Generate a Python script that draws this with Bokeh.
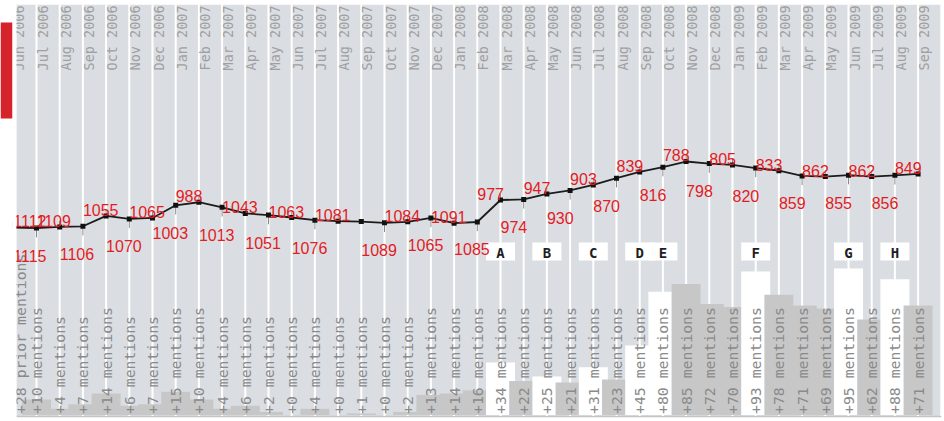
import math
from bokeh.plotting import figure
from bokeh.models import Range1d
from bokeh.core.properties import value
from bokeh.embed import file_html
from bokeh.resources import INLINE

# ---------------- data ----------------
months = ["Jun 2006", "Jul 2006", "Aug 2006", "Sep 2006", "Oct 2006", "Nov 2006", "Dec 2006",
          "Jan 2007", "Feb 2007", "Mar 2007", "Apr 2007", "May 2007", "Jun 2007", "Jul 2007",
          "Aug 2007", "Sep 2007", "Oct 2007", "Nov 2007", "Dec 2007",
          "Jan 2008", "Feb 2008", "Mar 2008", "Apr 2008", "May 2008", "Jun 2008", "Jul 2008",
          "Aug 2008", "Sep 2008", "Oct 2008", "Nov 2008", "Dec 2008",
          "Jan 2009", "Feb 2009", "Mar 2009", "Apr 2009", "May 2009", "Jun 2009", "Jul 2009",
          "Aug 2009", "Sep 2009"]

# rank at each month boundary (lower = better, drawn higher)
ranks = [1112, 1115, 1109, 1106, 1055, 1070, 1065, 1003, 988, 1013,
         1043, 1051, 1063, 1076, 1081, 1083, 1089, 1084, 1065, 1091,
         1085, 977, 974, 947, 930, 903, 870, 839, 816, 788,
         798, 805, 820, 833, 859, 862, 855, 862, 856, 849]
unlabelled_ranks = [15]

prior_mentions = 28
mentions = [10, 4, 7, 14, 6, 7, 15, 10, 4, 6,
            2, 0, 4, 0, 1, 0, 2, 13, 14, 16,
            34, 22, 25, 21, 31, 23, 45, 80, 85, 72,
            70, 93, 78, 71, 69, 95, 62, 88, 71]

event_points = [20, 22, 24, 26, 27, 31, 35, 37]
event_letters = ["A", "B", "C", "D", "E", "F", "G", "H"]

# ---------------- figure ----------------
W, H = 944, 421
X0 = -12.8 / 23.2
p = figure(width=W, height=H, x_range=Range1d(X0, X0 + W / 23.2), y_range=Range1d(H, 0),
           output_backend="svg", toolbar_location=None, min_border=0,
           x_axis_location=None, y_axis_location=None, outline_line_color=None,
           background_fill_color="white", border_fill_color="white")
p.grid.visible = False
p.extra_y_ranges = {"rank": Range1d(2064.4, -2.4), "ment": Range1d(-4.22, 268.8)}

MONO = value("DejaVu Sans Mono")

# background stripes
p.quad(left=0.134, right=40, top=4, bottom=415.5, fill_color="#dadee3", line_color=None)
# red tab at far left
p.quad(left=X0, right=-0.034, top=22, bottom=118, fill_color="#d6232b", line_color=None)
# baseline
p.segment(x0=0.134, y0=416, x1=40, y1=416, line_color="#c4c4c4", line_width=1.5)

# white column separators
sep_x = [k + 1 for k in range(len(months))]
p.segment(x0=sep_x, y0=[4] * len(sep_x), x1=sep_x, y1=[415.5] * len(sep_x),
          line_color="white", line_width=2)

# month headers
p.text(x=[k + 0.26 for k in range(len(months))], y=[70] * len(months), text=months,
       angle=math.pi / 2, text_align="left", text_baseline="middle",
       text_font=MONO, text_font_size="13.5px", text_color="#a0a0a0")

# mention bars
bar_x = [k + 1 for k in range(len(mentions))]
bar_col = ["#ffffff" if k in event_points else "#c7c7c7" for k in range(len(mentions))]
p.vbar(x=bar_x, width=1.25, top=mentions, bottom=0, y_range_name="ment",
       fill_color=bar_col, line_color=None)

# event letter boxes
ev_x = [k + 1 for k in event_points]
p.quad(left=[x - 0.625 for x in ev_x], right=[x + 0.625 for x in ev_x],
       top=[242] * len(ev_x), bottom=[260] * len(ev_x), fill_color="white", line_color=None)
p.text(x=ev_x, y=[252] * len(ev_x), text=event_letters, text_align="center",
       text_baseline="middle", text_font=MONO, text_font_style="bold",
       text_font_size="14px", text_color="#1e1e1e")

# mention labels
m_x = [0.33] + bar_x
m_text = ["+%d prior mentions" % prior_mentions] + ["+%d mentions" % m for m in mentions]
p.text(x=m_x, y=[413.5] * len(m_x), text=m_text, angle=math.pi / 2, text_align="left",
       text_baseline="middle", text_font=MONO, text_font_size="14.8px", text_color="#8a8a8a")

# rank line
rx = list(range(len(ranks)))
side = []
up = True
for i in range(len(ranks)):
    if i in unlabelled_ranks:
        side.append(0)
        continue
    side.append(-1 if up else 1)
    up = not up

tick_x, tick_y0, tick_y1 = [], [], []
lab_x, lab_y, lab_t = [], [], []
for i, r in enumerate(ranks):
    if side[i] == 0:
        continue
    lab_x.append(max(i - 1, 0))
    lab_t.append(str(r))
    if side[i] < 0:
        lab_y.append(r - 29.5)
        tick_y1.append(r - 30)
    else:
        lab_y.append(r + 135)
        tick_y1.append(r + 45)
    tick_x.append(i)
    tick_y0.append(r)

p.segment(x0=tick_x, y0=tick_y0, x1=tick_x, y1=tick_y1, y_range_name="rank",
          line_color="#8a8a8a", line_width=1)
p.line(x=rx, y=ranks, y_range_name="rank", line_color="#1c1c1c", line_width=1.8)
p.scatter(x=rx[1:], y=ranks[1:], y_range_name="rank", marker="square", size=5,
          fill_color="#111111", line_color=None)
p.text(x=lab_x, y=lab_y, text=lab_t, y_range_name="rank", text_align="left",
       text_baseline="alphabetic", text_font=value("Liberation Sans"),
       text_font_size="16px", text_color="#e31b23")

# white gap between red tab and chart area
p.quad(left=-0.034, right=0.134, top=0, bottom=H, fill_color="white", line_color=None)
p.quad(left=X0, right=40.2, top=0, bottom=4, fill_color="white", line_color=None)

open("out.html", "w").write(file_html(p, INLINE))
